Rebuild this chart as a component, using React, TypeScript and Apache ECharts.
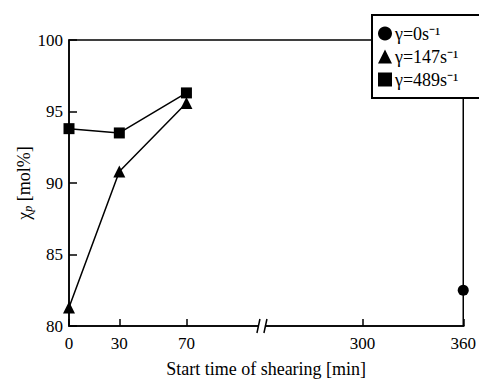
import React, { useEffect, useRef } from 'react';
import * as echarts from 'echarts';

const xTicks = [0, 30, 70, 300, 360];
const seriesNames = ['γ=0s⁻¹', 'γ=147s⁻¹', 'γ=489s⁻¹'];
const shear0: number[][] = [[360, 82.5]];
const shear147: number[][] = [[0, 81.3], [30, 90.8], [70, 95.6]];
const shear489: number[][] = [[0, 93.8], [30, 93.5], [70, 96.3]];
const breakStart = 115;
const breakEnd = 240;
const yNameParts = ['χ', 'p', ' [mol%]'];

const FONT = 'Liberation Serif';

export default function App() {
  const ref = useRef<HTMLDivElement>(null);
  useEffect(() => {
    document.body.style.margin = '0';
    if (!ref.current) return;
    const chart = echarts.init(ref.current, null, { renderer: 'svg' });
    const black = '#000';
    const option: any = {
      animation: false,
      backgroundColor: '#fff',
      textStyle: { fontFamily: FONT },
      grid: {
        left: 69, right: 12, top: 40, bottom: 57,
        show: true, borderColor: black, borderWidth: 1.5, backgroundColor: 'transparent',
      },
      legend: {
        orient: 'vertical',
        left: 372, top: 15,
        backgroundColor: '#fff',
        borderColor: black, borderWidth: 2, borderRadius: 0,
        padding: [7, 40, 7, 6],
        itemGap: 0,
        itemWidth: 14, itemHeight: 14,
        data: [
          { name: seriesNames[0], icon: 'circle' },
          { name: seriesNames[1], icon: 'triangle' },
          { name: seriesNames[2], icon: 'rect' },
        ],
        textStyle: {
          color: black, fontFamily: FONT, fontSize: 18, lineHeight: 23, padding: [0, 0, 0, -2],
        },
      },
      xAxis: {
        type: 'value',
        min: 0, max: 360,
        breaks: [{ start: breakStart, end: breakEnd, gap: 0 }],
        breakArea: { show: false },
        axisLine: { show: true, lineStyle: { color: black, width: 1.5 } },
        axisTick: { show: true, inside: true, length: 7, customValues: xTicks, lineStyle: { color: black, width: 1.5 } },
        axisLabel: { customValues: xTicks, color: black, fontFamily: FONT, fontSize: 17, margin: 9 },
        splitLine: { show: false },
        name: 'Start time of shearing [min]',
        nameLocation: 'middle',
        nameGap: 34,
        nameTextStyle: { color: black, fontFamily: FONT, fontSize: 18 },
      },
      yAxis: {
        type: 'value',
        min: 80, max: 100, interval: 5,
        axisLine: { show: true, lineStyle: { color: black, width: 1.5 } },
        axisTick: { show: true, inside: true, length: 8, lineStyle: { color: black, width: 1.5 } },
        axisLabel: { color: black, fontFamily: FONT, fontSize: 17, margin: 6 },
        splitLine: { show: false },
      },
      series: [
        {
          name: seriesNames[0], type: 'line', data: shear0, symbol: 'circle', symbolSize: 11,
          clip: false, itemStyle: { color: black }, lineStyle: { color: black, width: 1.5 },
        },
        {
          name: seriesNames[1], type: 'line', data: shear147, symbol: 'triangle', symbolSize: 12,
          clip: false, itemStyle: { color: black }, lineStyle: { color: black, width: 1.5 },
        },
        {
          name: seriesNames[2], type: 'line', data: shear489, symbol: 'rect', symbolSize: 11,
          clip: false, itemStyle: { color: black }, lineStyle: { color: black, width: 1.5 },
        },
      ],
    };
    chart.setOption(option);

    const graphics: any[] = [];
    try {
      const bx = chart.convertToPixel({ xAxisIndex: 0 } as any, breakStart) as number;
      const by = chart.convertToPixel({ yAxisIndex: 0 } as any, 80) as number;
      if (isFinite(bx) && isFinite(by)) {
        graphics.push(
          { type: 'rect', shape: { x: bx - 3, y: by - 3, width: 6, height: 6 }, style: { fill: '#fff' }, z: 100 },
          { type: 'line', shape: { x1: bx - 5, y1: by + 7, x2: bx - 2, y2: by - 7 }, style: { stroke: black, lineWidth: 1.5 }, z: 101 },
          { type: 'line', shape: { x1: bx + 2, y1: by + 7, x2: bx + 5, y2: by - 7 }, style: { stroke: black, lineWidth: 1.5 }, z: 101 },
        );
      }
    } catch (e) {}

    // y-axis name with italic subscript p
    try {
      const y90 = chart.convertToPixel({ yAxisIndex: 0 } as any, 90) as number;
      const canvas = document.createElement('canvas');
      const ctx = canvas.getContext('2d')!;
      const fonts = ['18px "Liberation Serif"', 'italic 12px "Liberation Serif"', '18px "Liberation Serif"'];
      const widths = yNameParts.map((t, i) => { ctx.font = fonts[i]; return ctx.measureText(t).width; });
      const total = widths.reduce((a, b) => a + b, 0);
      let cx = -total / 2;
      const children = yNameParts.map((t, i) => {
        const el = {
          type: 'text',
          x: cx,
          y: i === 1 ? 4 : 0,
          style: {
            text: t,
            fill: black,
            fontFamily: FONT,
            fontSize: i === 1 ? 12 : 18,
            fontStyle: i === 1 ? 'italic' : 'normal',
            textAlign: 'left',
            textVerticalAlign: 'middle',
          },
        };
        cx += widths[i];
        return el;
      });
      graphics.push({ type: 'group', x: 24, y: y90, rotation: Math.PI / 2, children });
    } catch (e) {}

    chart.setOption({ graphic: graphics });
    return () => chart.dispose();
  }, []);
  return <div ref={ref} style={{ width: 479, height: 383 }} />;
}
